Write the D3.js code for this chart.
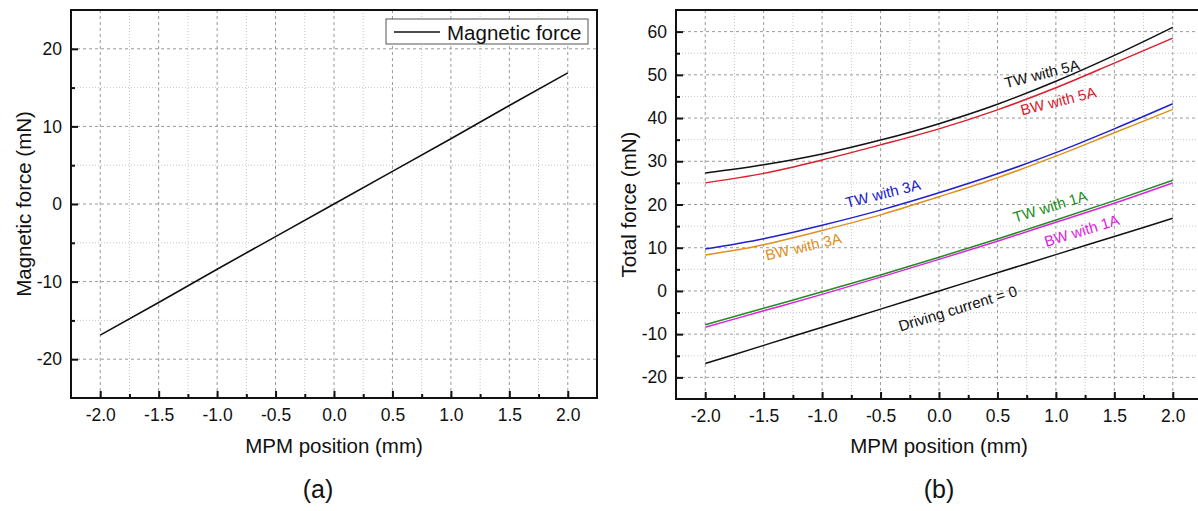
<!DOCTYPE html>
<html>
<head>
<meta charset="utf-8">
<script src="https://cdn.jsdelivr.net/npm/d3@7"></script>
<style>
  html, body { margin: 0; padding: 0; background: #fff; }
  svg { display: block; }
  text { font-family: "Liberation Sans", Arial, sans-serif; }
</style>
</head>
<body>
<svg id="chart" width="1198" height="511"></svg>
<script>
// ---------- data ----------
const positions = [-2.0, -1.5, -1.0, -0.5, 0.0, 0.5, 1.0, 1.5, 2.0];
const xTickValues = [-2.0, -1.5, -1.0, -0.5, 0.0, 0.5, 1.0, 1.5, 2.0];
const xMinorTicks = [-2.25, -1.75, -1.25, -0.75, -0.25, 0.25, 0.75, 1.25, 1.75, 2.25];

// (a) magnetic force
const magneticForce = [-16.9, -12.7, -8.4, -4.2, 0.0, 4.2, 8.4, 12.7, 16.9];
const yTicksA = [-20, -10, 0, 10, 20];
const yMinorA = [-25, -15, -5, 5, 15, 25];

// (b) total force
const tw5A = [27.3, 29.2, 31.7, 34.9, 38.7, 43.2, 48.5, 54.5, 61.0];
const bw5A = [25.0, 27.2, 30.3, 33.8, 37.5, 41.9, 47.0, 52.7, 58.5];
const tw3A = [9.7, 12.1, 15.2, 18.7, 22.7, 27.1, 32.0, 37.5, 43.3];
const bw3A = [8.3, 10.7, 14.0, 17.6, 21.8, 26.2, 31.2, 36.6, 42.0];
const tw1A = [-7.8, -4.0, -0.2, 3.7, 7.8, 12.0, 16.4, 20.9, 25.6];
const bw1A = [-8.4, -4.6, -0.8, 3.2, 7.3, 11.5, 15.9, 20.3, 25.0];
const zeroCurrent = [-16.8, -12.6, -8.4, -4.2, 0.0, 4.2, 8.4, 12.6, 16.8];
const yTicksB = [-20, -10, 0, 10, 20, 30, 40, 50, 60];
const yMinorB = [-25, -15, -5, 5, 15, 25, 35, 45, 55, 65];

const seriesNames = ["TW with 5A", "BW with 5A", "TW with 3A", "BW with 3A", "TW with 1A", "BW with 1A", "Driving current = 0"];
const seriesValues = [tw5A, bw5A, tw3A, bw3A, tw1A, bw1A, zeroCurrent];
const seriesColors = ["#111111", "#d9202c", "#2020cc", "#e0901c", "#228b22", "#dd22dd", "#111111"];
// label anchor in data coordinates and rotation
const labelX = [0.88, 1.02, -0.48, -1.16, 0.95, 1.22, 0.16];
const labelY = [50.3, 44.0, 22.6, 10.3, 19.6, 14.0, -4.0];
const labelAngle = [-14, -14, -14, -13, -17, -17, -17];

// ---------- drawing ----------
const svg = d3.select("#chart");
const hyphen = f => v => f(v).replace("\u2212", "-");

function panel(opts) {
  const { left, right, top, bottom, yDomain, yTicks, yMinor, yTitle, yTitleX, caption, captionX } = opts;
  const x = d3.scaleLinear().domain([-2.25, 2.25]).range([left, right]);
  const y = d3.scaleLinear().domain(yDomain).range([bottom, top]);
  const g = svg.append("g");

  // grid: minor dotted, major dashed
  const grid = g.append("g");
  xMinorTicks.filter(v => v > -2.25 && v < 2.25).forEach(v => {
    grid.append("line").attr("x1", x(v)).attr("x2", x(v)).attr("y1", top).attr("y2", bottom)
      .attr("stroke", "#c8c8c8").attr("stroke-width", 1).attr("stroke-dasharray", "1,2");
  });
  yMinor.filter(v => v > yDomain[0] && v < yDomain[1]).forEach(v => {
    grid.append("line").attr("x1", left).attr("x2", right).attr("y1", y(v)).attr("y2", y(v))
      .attr("stroke", "#c8c8c8").attr("stroke-width", 1).attr("stroke-dasharray", "1,2");
  });
  xTickValues.forEach(v => {
    grid.append("line").attr("x1", x(v)).attr("x2", x(v)).attr("y1", top).attr("y2", bottom)
      .attr("stroke", "#9a9a9a").attr("stroke-width", 1).attr("stroke-dasharray", "3,3");
  });
  yTicks.forEach(v => {
    grid.append("line").attr("x1", left).attr("x2", right).attr("y1", y(v)).attr("y2", y(v))
      .attr("stroke", "#9a9a9a").attr("stroke-width", 1).attr("stroke-dasharray", "3,3");
  });

  // axes
  g.append("g").attr("transform", `translate(0,${bottom})`)
    .call(d3.axisBottom(x).tickValues(xTickValues).tickFormat(hyphen(d3.format(".1f")))
      .tickSizeInner(-7).tickSizeOuter(0).tickPadding(11));
  g.append("g").attr("transform", `translate(0,${bottom})`)
    .call(d3.axisBottom(x).tickValues(xMinorTicks.filter(v => v > -2.25 && v < 2.25))
      .tickFormat("").tickSizeInner(-4).tickSizeOuter(0));
  g.append("g").attr("transform", `translate(${left},0)`)
    .call(d3.axisLeft(y).tickValues(yTicks).tickFormat(hyphen(d3.format("d")))
      .tickSizeInner(-7).tickSizeOuter(0).tickPadding(9));
  g.append("g").attr("transform", `translate(${left},0)`)
    .call(d3.axisLeft(y).tickValues(yMinor.filter(v => v > yDomain[0] && v < yDomain[1]))
      .tickFormat("").tickSizeInner(-4).tickSizeOuter(0));
  g.selectAll(".domain").remove();
  g.selectAll(".tick line").attr("stroke", "#111").attr("stroke-width", 2);
  g.selectAll(".tick text").attr("fill", "#111").style("font-size", "17.5px")
    .style("font-family", '"Liberation Sans", Arial, sans-serif');

  // frame
  g.append("rect").attr("x", left).attr("y", top).attr("width", right - left).attr("height", bottom - top)
    .attr("fill", "none").attr("stroke", "#111").attr("stroke-width", 2);

  // titles
  g.append("text").attr("x", x(0)).attr("y", 453).attr("text-anchor", "middle")
    .style("font-size", "20.5px").attr("fill", "#111").text("MPM position (mm)");
  g.append("text").attr("transform", `translate(${yTitleX},${(top + bottom) / 2}) rotate(-90)`)
    .attr("text-anchor", "middle").style("font-size", "20.5px").attr("fill", "#111").text(yTitle);
  g.append("text").attr("x", captionX).attr("y", 498).attr("text-anchor", "middle")
    .style("font-size", "25px").attr("fill", "#111").text(caption);

  return { g, x, y };
}

// ----- panel (a)
const A = panel({ left: 71, right: 597, top: 10, bottom: 398, yDomain: [-25, 25],
  yTicks: yTicksA, yMinor: yMinorA, yTitle: "Magnetic force (mN)", yTitleX: 31,
  caption: "(a)", captionX: 318 });
const lineA = d3.line().x((d, i) => A.x(positions[i])).y(d => A.y(d));
A.g.append("path").datum(magneticForce).attr("d", lineA)
  .attr("fill", "none").attr("stroke", "#111").attr("stroke-width", 1.6);

// legend
const leg = A.g.append("g");
leg.append("rect").attr("x", 386).attr("y", 19).attr("width", 202).attr("height", 25)
  .attr("fill", "#fff").attr("stroke", "#555").attr("stroke-width", 1);
leg.append("line").attr("x1", 394).attr("x2", 440).attr("y1", 32).attr("y2", 32)
  .attr("stroke", "#111").attr("stroke-width", 1.6);
leg.append("text").attr("x", 447).attr("y", 39.5).style("font-size", "20.5px").attr("fill", "#111")
  .text("Magnetic force");

// ----- panel (b)
const B = panel({ left: 676, right: 1202, top: 10, bottom: 399, yDomain: [-25, 65],
  yTicks: yTicksB, yMinor: yMinorB, yTitle: "Total force (mN)", yTitleX: 636,
  caption: "(b)", captionX: 939 });
const lineB = d3.line().x((d, i) => B.x(positions[i])).y(d => B.y(d)).curve(d3.curveMonotoneX);
seriesValues.forEach((vals, k) => {
  B.g.append("path").datum(vals).attr("d", lineB)
    .attr("fill", "none").attr("stroke", seriesColors[k]).attr("stroke-width", 1.5);
});
seriesNames.forEach((name, k) => {
  B.g.append("text")
    .attr("transform", `translate(${B.x(labelX[k])},${B.y(labelY[k])}) rotate(${labelAngle[k]})`)
    .attr("text-anchor", "middle").attr("dominant-baseline", "central")
    .style("font-size", "15px").attr("fill", seriesColors[k]).text(name);
});
</script>
</body>
</html>
